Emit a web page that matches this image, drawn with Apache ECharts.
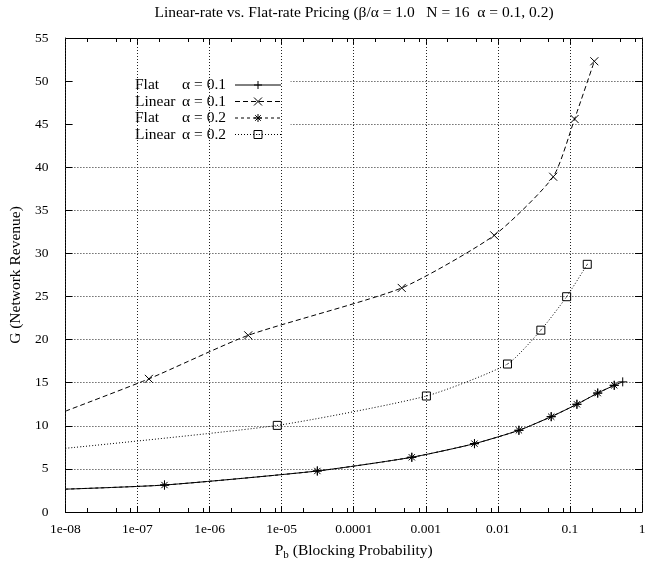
<!DOCTYPE html>
<html>
<head>
<meta charset="utf-8">
<script src="https://cdn.jsdelivr.net/npm/echarts@6/dist/echarts.min.js"></script>
<style>
html,body{margin:0;padding:0;background:#fff;}
#chart{width:655px;height:567px;}
</style>
</head>
<body>
<div id="chart"></div>
<script>
// ---- data ----
const xTickLabels = ['1e-08','1e-07','1e-06','1e-05','0.0001','0.001','0.01','0.1','1'];
const xMinorMultipliers = [2, 5, 8];

// first point of each list is where the curve enters the plot (no marker)
const flat01X = [1e-8, 2.37e-7, 3.13e-5, 6.4e-4, 4.74e-3, 0.0196, 0.055, 0.125, 0.243, 0.412, 0.54];
const flat01Y = [2.65, 3.13, 4.76, 6.35, 7.93, 9.48, 11.06, 12.5, 13.8, 14.7, 15.1];

const lin01X = [1e-8, 1.44e-7, 3.44e-6, 4.64e-4, 0.0089, 0.0586, 0.116, 0.218];
const lin01Y = [11.7, 15.45, 20.5, 26.0, 32.1, 38.9, 45.6, 52.3];

const flat02X = [1e-8, 2.37e-7, 3.13e-5, 6.4e-4, 4.74e-3, 0.0196, 0.055, 0.125, 0.243, 0.412];
const flat02Y = [2.65, 3.13, 4.76, 6.35, 7.93, 9.48, 11.06, 12.5, 13.8, 14.7];

const lin02X = [1e-8, 8.7e-6, 0.00102, 0.0136, 0.0395, 0.090, 0.174];
const lin02Y = [7.39, 10.05, 13.46, 17.17, 21.1, 24.98, 28.74];

const seriesNames = ['Flat    α = 0.1', 'Linear α = 0.1', 'Flat    α = 0.2', 'Linear α = 0.2'];
const legendWords = [['Flat','α = 0.1'],['Linear','α = 0.1'],['Flat','α = 0.2'],['Linear','α = 0.2']];

// ---- build ----
function build(xs, ys) {
  return xs.map((x, i) => i === 0 ? { value: [x, ys[i]], symbol: 'none' } : [x, ys[i]]);
}
const minorTicks = [];
for (let e = -8; e < 0; e++) {
  xMinorMultipliers.forEach(m => minorTicks.push([m * Math.pow(10, e), 0]));
}

const FONT = '"Liberation Serif", "DejaVu Serif", serif';
const SYM_PLUS = 'path://M0,5L10,5M5,0L5,10';
const SYM_CROSS = 'path://M0,0L10,10M10,0L0,10';
const SYM_STAR = 'path://M0,5L10,5M5,0L5,10M1.5,1.5L8.5,8.5M8.5,1.5L1.5,8.5';
const SYM_SQUARE = 'path://M0,0L10,0L10,10L0,10ZM4.6,5L5.4,5';

function lineSeries(name, data, dash, sym, size) {
  return {
    name: name,
    type: 'line',
    data: data,
    xAxisIndex: 0, yAxisIndex: 0,
    smooth: 0.2,
    symbol: sym,
    symbolSize: size,
    showAllSymbol: true,
    clip: true,
    lineStyle: { color: '#000', width: 1, type: dash },
    itemStyle: { color: 'rgba(0,0,0,0)', borderColor: '#000', borderWidth: 1 },
    emphasis: { disabled: true },
    animation: false,
    z: 3
  };
}

const chart = echarts.init(document.getElementById('chart'), null, { renderer: 'canvas' });

const option = {
  backgroundColor: '#fff',
  animation: false,
  textStyle: { fontFamily: FONT, color: '#000' },
  title: {
    text: 'Linear-rate vs. Flat-rate Pricing (β/α = 1.0   N = 16  α = 0.1, 0.2)',
    left: 354, top: 5, textAlign: 'center', padding: 0,
    textStyle: { fontFamily: FONT, fontSize: 15.5, fontWeight: 'normal', color: '#000' }
  },
  grid: { left: 65, right: 13, top: 38, bottom: 55, containLabel: false },
  legend: {
    data: seriesNames,
    orient: 'vertical',
    left: 73, top: 74,
    align: 'right',
    itemWidth: 46, itemHeight: 10, itemGap: 0.5,
    padding: [3, 9, 3, 62],
    backgroundColor: '#fff',
    z: 1,
    selectedMode: false,
    itemStyle: { borderWidth: 1 },
    lineStyle: { width: 1 },
    formatter: function (name) {
      const i = seriesNames.indexOf(name);
      return '{n|' + legendWords[i][0] + '}{v|' + legendWords[i][1] + '}';
    },
    textStyle: {
      fontFamily: FONT, fontSize: 15.5, color: '#000', lineHeight: 16,
      rich: {
        n: { width: 45, align: 'left', fontFamily: FONT, fontSize: 15.5, lineHeight: 16 },
        v: { width: 46, align: 'right', padding: [0, 4, 0, 0], fontFamily: FONT, fontSize: 15.5, lineHeight: 16 }
      }
    }
  },
  xAxis: [
    {
      type: 'log', logBase: 10, min: 1e-8, max: 1, splitNumber: 8,
      position: 'bottom',
      z: 2,
      name: '{p|P}{s|b}{p| (Blocking Probability)}',
      nameLocation: 'middle', nameGap: 29,
      nameTextStyle: {
        rich: {
          p: { fontFamily: FONT, fontSize: 15.5, color: '#000' },
          s: { fontFamily: FONT, fontSize: 11, color: '#000', verticalAlign: 'bottom', padding: [9, 0, 0, 0] }
        }
      },
      axisLine: { show: true, onZero: false, lineStyle: { color: '#000', width: 1 } },
      axisTick: { show: true, inside: true, length: 6, lineStyle: { color: '#000' } },
      axisLabel: {
        margin: 10, fontFamily: FONT, fontSize: 13.5, color: '#000',
        formatter: function (v) { return xTickLabels[Math.round(Math.log10(v)) + 8]; }
      },
      splitLine: { show: true, lineStyle: { color: '#222', width: 1, type: [1, 2] } }
    },
    {
      type: 'log', logBase: 10, min: 1e-8, max: 1, splitNumber: 8,
      position: 'top',
      axisLine: { show: true, onZero: false, lineStyle: { color: '#000', width: 1 } },
      axisTick: { show: true, inside: true, length: 6, lineStyle: { color: '#000' } },
      axisLabel: { show: false },
      splitLine: { show: false }
    }
  ],
  yAxis: [
    {
      type: 'value', min: 0, max: 55, interval: 5,
      position: 'left',
      z: 0,
      name: 'G (Network Revenue)',
      nameLocation: 'middle', nameGap: 33, nameRotate: 90,
      nameTextStyle: { fontFamily: FONT, fontSize: 15.5, color: '#000' },
      axisLine: { show: true, onZero: false, lineStyle: { color: '#000', width: 1 } },
      axisTick: { show: true, inside: true, length: 7, lineStyle: { color: '#000' } },
      axisLabel: { margin: 17, fontFamily: FONT, fontSize: 13.5, color: '#000' },
      splitLine: { show: true, lineStyle: { color: '#222', width: 1, type: [1, 2] } }
    },
    {
      type: 'value', min: 0, max: 55, interval: 5,
      position: 'right',
      axisLine: { show: true, onZero: false, lineStyle: { color: '#000', width: 1 } },
      axisTick: { show: true, inside: true, length: 7, lineStyle: { color: '#000' } },
      axisLabel: { show: false },
      splitLine: { show: false }
    }
  ],
  series: [
    lineSeries(seriesNames[0], build(flat01X, flat01Y), 'solid', SYM_PLUS, 9),
    lineSeries(seriesNames[1], build(lin01X, lin01Y), [5, 3], SYM_CROSS, 8),
    lineSeries(seriesNames[2], build(flat02X, flat02Y), [3, 3], SYM_STAR, 9),
    lineSeries(seriesNames[3], build(lin02X, lin02Y), [1, 2], SYM_SQUARE, 8),
    {
      type: 'custom',
      silent: true,
      xAxisIndex: 0, yAxisIndex: 0,
      data: minorTicks,
      encode: { x: 0, y: 1 },
      z: 4,
      renderItem: function (params, api) {
        const pb = api.coord([api.value(0), 0]);
        const pt = api.coord([api.value(0), 55]);
        const x = Math.round(pb[0]) + 0.5;
        return {
          type: 'group',
          children: [
            { type: 'line', shape: { x1: x, y1: pb[1], x2: x, y2: pb[1] - 4 }, style: { stroke: '#000', lineWidth: 1 } },
            { type: 'line', shape: { x1: x, y1: pt[1], x2: x, y2: pt[1] + 4 }, style: { stroke: '#000', lineWidth: 1 } }
          ]
        };
      }
    }
  ]
};
chart.setOption(option);
</script>
</body>
</html>
